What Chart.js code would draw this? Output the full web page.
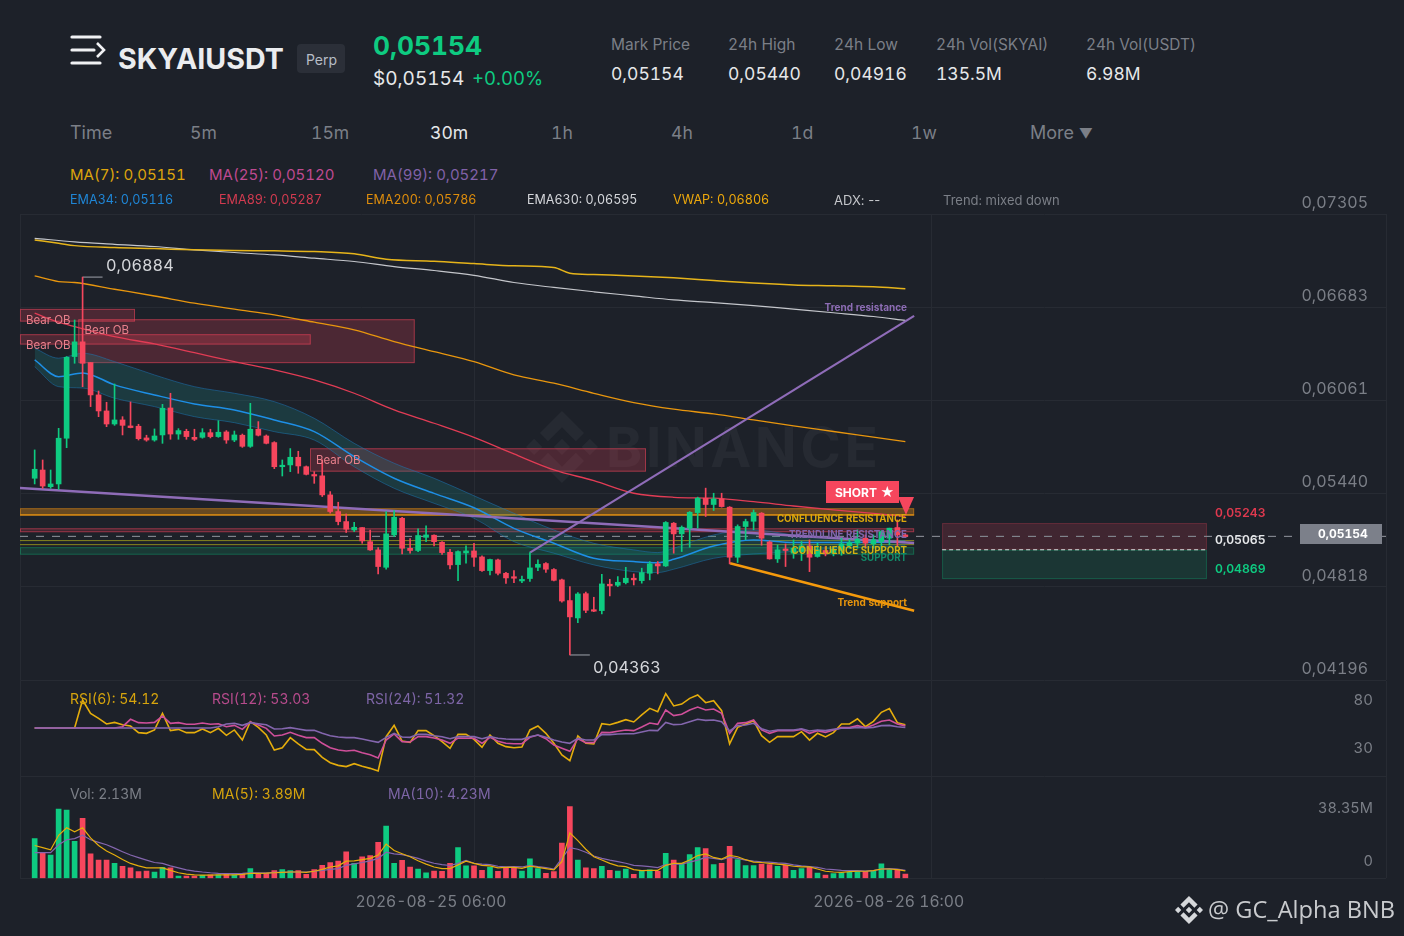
<!DOCTYPE html>
<html><head><meta charset="utf-8"><title>SKYAIUSDT</title>
<script src="https://cdn.jsdelivr.net/npm/chart.js@4/dist/chart.umd.js"></script>
<style>
html,body{margin:0;padding:0;background:#1d2129;width:1404px;height:936px;overflow:hidden;font-family:Inter,sans-serif;font-variant-numeric:tabular-nums}
canvas{position:absolute;left:0}
.t{position:absolute;white-space:nowrap;transform:translateY(-50%);line-height:1}
.r{position:absolute;white-space:nowrap;transform:translate(-100%,-50%);line-height:1}
.g{color:#7b7f87}
.mark{font-weight:700;font-size:9.7px}
svg{position:absolute}
</style></head><body>
<svg style="left:526px;top:411px" width="72" height="72" viewBox="0 0 24 24"><path fill="#262a32" d="M16.624 13.9202l2.7175 2.7154-7.353 7.353-7.353-7.352 2.7175-2.7164 4.6355 4.6595 4.6356-4.6595zm4.6366-4.6366L24 12l-2.7154 2.7164L18.5682 12l2.6924-2.7164zm-9.272.001l2.7163 2.6914-2.7164 2.7174v-.001L9.2721 12l2.7164-2.7154zm-9.2722-.001L5.4088 12l-2.6914 2.6924L0 12l2.7164-2.7164zM11.9885.0115l7.353 7.329-2.7174 2.7154-4.6356-4.6356-4.6355 4.6595-2.7174-2.7154 7.353-7.353z"/></svg>
<div class="t" style="left:606px;top:447px;font-size:55px;font-weight:700;color:#262a32;letter-spacing:3.5px">BINANCE</div>
<canvas id="price" style="top:190px" width="1404" height="510"></canvas>
<canvas id="rsi" style="top:660px" width="1404" height="137"></canvas>
<canvas id="vol" style="top:757px" width="1404" height="170"></canvas>

<svg style="left:70px;top:34px" width="36" height="32" viewBox="0 0 36 32"><g stroke="#f0f1f3" stroke-width="3.2" stroke-linecap="round" fill="none"><path d="M2 3H30"/><path d="M2 16H24"/><path d="M2 29H30"/><path d="M27 9L34 16L27 23" stroke-width="2.6" stroke-linecap="butt"/></g></svg>
<div class="t" style="left:118px;top:58.5px;font-size:28.6px;font-weight:700;color:#eaecef">SKYAIUSDT</div>
<div style="position:absolute;left:297px;top:44px;width:48px;height:29px;background:#2b2f38;border-radius:4px"></div>
<div class="t" style="left:306px;top:60px;font-size:14px;color:#b7bdc6">Perp</div>
<div class="t" style="left:373px;top:46px;font-size:26.3px;font-weight:700;color:#0ecb81">0,05154</div>
<div class="t" style="left:373px;top:78px;font-size:19px;color:#e6e8ea">$0,05154</div>
<div class="t" style="left:472px;top:78px;font-size:18.5px;color:#0ecb81">+0.00%</div>
<div class="t g" style="left:611px;top:45px;font-size:15.5px">Mark Price</div><div class="t" style="left:611px;top:74px;font-size:17.5px;color:#e6e8ea">0,05154</div>
<div class="t g" style="left:728px;top:45px;font-size:15.5px">24h High</div><div class="t" style="left:728px;top:74px;font-size:17.5px;color:#e6e8ea">0,05440</div>
<div class="t g" style="left:834px;top:45px;font-size:15.5px">24h Low</div><div class="t" style="left:834px;top:74px;font-size:17.5px;color:#e6e8ea">0,04916</div>
<div class="t g" style="left:936px;top:45px;font-size:15.4px">24h Vol(SKYAI)</div><div class="t" style="left:936px;top:74px;font-size:17.5px;color:#e6e8ea">135.5M</div>
<div class="t g" style="left:1086px;top:45px;font-size:15.4px">24h Vol(USDT)</div><div class="t" style="left:1086px;top:74px;font-size:17.5px;color:#e6e8ea">6.98M</div>

<div class="t g" style="left:70px;top:133px;font-size:18px">Time</div>
<div class="t g" style="left:190px;top:133px;font-size:17.6px">5m</div>
<div class="t g" style="left:311px;top:133px;font-size:17.6px">15m</div>
<div class="t" style="left:430px;top:133px;font-size:17.6px;color:#e6e8ea">30m</div>
<div class="t g" style="left:551px;top:133px;font-size:17.6px">1h</div>
<div class="t g" style="left:671px;top:133px;font-size:17.6px">4h</div>
<div class="t g" style="left:791px;top:133px;font-size:17.6px">1d</div>
<div class="t g" style="left:911px;top:133px;font-size:17.6px">1w</div>
<div class="t g" style="left:1030px;top:133px;font-size:18px">More <span style="font-size:14px">▼</span></div>

<div class="t" style="left:70px;top:174px;font-size:15px;color:#dea40c">MA(7): 0,05151</div>
<div class="t" style="left:209px;top:174px;font-size:15px;color:#bf4a90">MA(25): 0,05120</div>
<div class="t" style="left:373px;top:174px;font-size:15px;color:#8161a8">MA(99): 0,05217</div>
<div class="t" style="left:70px;top:200px;font-size:12.6px;color:#1f86d6">EMA34: 0,05116</div>
<div class="t" style="left:219px;top:200px;font-size:12.6px;color:#d33b50">EMA89: 0,05287</div>
<div class="t" style="left:366px;top:200px;font-size:12.5px;color:#de8d0c">EMA200: 0,05786</div>
<div class="t" style="left:527px;top:200px;font-size:12.5px;color:#d4d6da">EMA630: 0,06595</div>
<div class="t" style="left:673px;top:200px;font-size:12.6px;color:#eda80c">VWAP: 0,06806</div>
<div class="t" style="left:834px;top:200px;font-size:13px;color:#c4c6ca;font-variant-numeric:normal;font-variant-ligatures:none">ADX: --</div>
<div class="t g" style="left:943px;top:200px;font-size:13px">Trend: mixed down</div>

<div class="t" style="left:106px;top:265px;font-size:16.3px;color:#d4d6da">0,06884</div>
<div class="t" style="left:593px;top:667px;font-size:16.3px;color:#d4d6da">0,04363</div>
<div class="t" style="left:26px;top:320.5px;font-size:11.5px;color:#e8808c">Bear OB</div>
<div class="t" style="left:84.5px;top:331px;font-size:11.5px;color:#e8808c">Bear OB</div>
<div class="t" style="left:26px;top:346px;font-size:11.5px;color:#e8808c">Bear OB</div>
<div class="t" style="left:316px;top:460.5px;font-size:11.5px;color:#e8808c">Bear OB</div>

<div class="r mark" style="left:907px;top:306.5px;color:#8d6db5;font-size:10px">Trend resistance</div>
<div class="r mark" style="left:907px;top:518.5px;color:#dca70b">CONFLUENCE RESISTANCE</div>
<div class="r mark" style="left:907px;top:534.5px;color:#7f64ab">TRENDLINE RESISTANCE</div>
<div class="r mark" style="left:907px;top:550.5px;color:#d2b012">CONFLUENCE SUPPORT</div>
<div class="r mark" style="left:907px;top:557.5px;color:#128a68">SUPPORT</div>
<div class="r mark" style="left:907px;top:601.5px;color:#e8950c;font-size:10px">Trend support</div>

<div style="position:absolute;left:826px;top:481px;width:73px;height:22px;background:#f6465d"></div>
<div class="t" style="left:835px;top:492.5px;font-size:12px;font-weight:700;color:#fff">SHORT <span style="font-size:13.5px">★</span></div>
<svg style="left:898px;top:497px" width="16" height="18" viewBox="0 0 16 18"><path d="M0 0H16L8 18Z" fill="#f6465d"/></svg>

<div class="t" style="left:1215px;top:512.5px;font-size:12.2px;font-weight:600;color:#e0394f">0,05243</div>
<div class="t" style="left:1215px;top:539.5px;font-size:12.2px;font-weight:600;color:#e6e8ea">0,05065</div>
<div class="t" style="left:1215px;top:569px;font-size:12.2px;font-weight:600;color:#0ecb81">0,04869</div>
<div style="position:absolute;left:1300px;top:524px;width:82px;height:20px;background:#7c808a"></div>
<div class="t" style="left:1318px;top:534px;font-size:12px;font-weight:700;color:#fff">0,05154</div>

<div class="t" style="left:70px;top:699px;font-size:14px;color:#d6a40d">RSI(6): 54.12</div>
<div class="t" style="left:212px;top:699px;font-size:14px;color:#b64b8c">RSI(12): 53.03</div>
<div class="t" style="left:366px;top:699px;font-size:14px;color:#7d65a6">RSI(24): 51.32</div>
<div class="t g" style="left:70px;top:794px;font-size:14px">Vol: 2.13M</div>
<div class="t" style="left:212px;top:794px;font-size:14px;color:#d6a40d">MA(5): 3.89M</div>
<div class="t" style="left:388px;top:794px;font-size:14px;color:#7d65a6">MA(10): 4.23M</div>

<svg style="left:1175px;top:896px" width="28" height="28" viewBox="0 0 24 24"><path fill="#d6d8db" d="M16.624 13.9202l2.7175 2.7154-7.353 7.353-7.353-7.352 2.7175-2.7164 4.6355 4.6595 4.6356-4.6595zm4.6366-4.6366L24 12l-2.7154 2.7164L18.5682 12l2.6924-2.7164zm-9.272.001l2.7163 2.6914-2.7164 2.7174v-.001L9.2721 12l2.7164-2.7154zm-9.2722-.001L5.4088 12l-2.6914 2.6924L0 12l2.7164-2.7164zM11.9885.0115l7.353 7.329-2.7174 2.7154-4.6356-4.6356-4.6355 4.6595-2.7174-2.7154 7.353-7.353z"/></svg>
<div class="t" style="left:1208px;top:910px;font-size:23.6px;color:#c9cbce;font-family:'Open Sans',sans-serif">@ GC_Alpha BNB</div>

<script>
// ---- candles (price) ----
const opens=[.05542,.05597,.05486,.05504,.05809,.06354,.06452,.06314,.06098,.05991,
.05904,.05931,.05891,.05889,.05811,.05797,.05831,.06011,.05837,.05855,
.05815,.05815,.05846,.05820,.05851,.05797,.05829,.05755,.05869,.05824,
.05780,.05619,.05631,.05682,.05619,.05564,.05558,.05431,.05320,.05253,
.05197,.05213,.05119,.05064,.04948,.05164,.05275,.05075,.05060,.05148,
.05162,.05115,.05048,.04966,.05044,.05057,.05017,.04926,.04997,.04908,
.04884,.04857,.04873,.04948,.04973,.04933,.04864,.04726,.04610,.04772,
.04661,.04659,.04835,.04828,.04846,.04875,.04859,.04908,.04971,.04957,
.05242,.05171,.05209,.05313,.05409,.05367,.05404,.05349,.05015,.05220,
.05255,.05309,.05117,.05004,.05068,.05042,.05053,.05091,.05020,.05060,
.05042,.05060,.05091,.05109,.05142,.05104,.05120,.05142,.05213,.05163];
const highs=[.05731,.05664,.05597,.05875,.06354,.06598,.06884,.06314,.06124,.06049,
.06171,.05953,.06051,.05902,.05829,.05871,.06035,.06109,.05873,.05869,
.05869,.05873,.05869,.05926,.05860,.05857,.05837,.06042,.05920,.05831,
.05786,.05664,.05740,.05722,.05624,.05586,.05665,.05453,.05382,.05304,
.05248,.05213,.05197,.05079,.05320,.05326,.05282,.05139,.05204,.05224,
.05164,.05119,.05068,.05057,.05091,.05108,.05024,.05002,.05002,.04915,
.04926,.04890,.05046,.04997,.04979,.04939,.04870,.04819,.04779,.04783,
.04748,.04901,.04868,.04886,.04948,.04904,.04942,.04986,.04986,.05253,
.05247,.05224,.05320,.05416,.05476,.05442,.05442,.05353,.05231,.05269,
.05331,.05313,.05124,.05097,.05104,.05131,.05120,.05131,.05109,.05086,
.05086,.05142,.05135,.05198,.05164,.05164,.05193,.05209,.05264,.05170];
const lows=[.05504,.05475,.05475,.05468,.05746,.06309,.06153,.06020,.05953,.05886,
.05895,.05831,.05878,.05797,.05789,.05789,.05775,.05802,.05802,.05802,
.05793,.05809,.05811,.05815,.05775,.05786,.05748,.05748,.05824,.05771,
.05606,.05557,.05586,.05575,.05564,.05508,.05420,.05309,.05231,.05180,
.05186,.05108,.05060,.04904,.04935,.05153,.05037,.05042,.05053,.05119,
.05091,.05033,.04937,.04859,.04975,.04953,.04921,.04897,.04897,.04841,
.04846,.04846,.04853,.04926,.04913,.04857,.04715,.04363,.04579,.04646,
.04652,.04637,.04757,.04819,.04837,.04830,.04842,.04864,.04904,.04953,
.05042,.05053,.05082,.05209,.05287,.05327,.05349,.04971,.04980,.05131,
.05198,.05095,.05002,.04980,.04953,.05008,.04993,.04919,.05015,.05024,
.05024,.05028,.05075,.05075,.05075,.05075,.05042,.05097,.05086,.05150];
const closes=[.05602,.05490,.05504,.05809,.06349,.06452,.06309,.06098,.05991,.05904,
.05931,.05895,.05880,.05806,.05797,.05824,.06009,.05837,.05860,.05820,
.05802,.05846,.05820,.05849,.05797,.05831,.05755,.05869,.05829,.05775,
.05619,.05628,.05682,.05624,.05568,.05557,.05431,.05320,.05253,.05202,
.05215,.05124,.05064,.04953,.05171,.05282,.05075,.05060,.05160,.05164,
.05119,.05046,.04964,.05053,.05057,.05015,.04926,.05000,.04908,.04877,
.04875,.04866,.04944,.04968,.04935,.04861,.04723,.04617,.04770,.04661,
.04655,.04837,.04824,.04848,.04875,.04864,.04913,.04971,.04957,.05247,
.05171,.05215,.05315,.05409,.05367,.05404,.05353,.05015,.05220,.05253,
.05313,.05142,.05004,.05064,.05060,.05075,.05091,.05015,.05064,.05037,
.05068,.05104,.05113,.05135,.05109,.05131,.05186,.05209,.05164,.05154];
// ---- volume, millions ----
const volumes=[21.2,13.3,12.4,37.1,36.5,19.7,32.1,13.1,9.7,9.7,
8.0,6.4,5.5,3.5,3.8,3.3,5.8,5.5,1.1,1.1,
1.1,1.5,1.8,1.8,2.2,1.8,2.4,5.1,2.2,2.7,
4.0,4.6,4.0,4.0,2.0,4.6,6.9,8.4,9.1,14.1,
8.0,11.5,12.1,19.2,27.9,8.0,9.5,6.0,4.9,2.9,
3.8,3.7,7.9,16.4,6.6,6.6,4.2,6.0,3.7,5.7,
5.7,3.8,10.4,5.1,2.6,3.5,18.8,38.35,9.7,5.5,
5.1,6.4,4.2,3.8,4.9,2.0,4.2,4.4,3.7,13.3,
9.7,7.9,12.6,16.4,15.9,7.3,8.0,17.0,10.0,6.8,
6.8,7.5,7.3,6.4,6.9,4.2,5.1,5.8,2.7,1.6,
2.4,2.9,3.1,3.5,3.7,3.7,7.7,4.6,4.6,2.13];
const volMa5=[17.5,16.4,15.2,23.0,27.0,24.8,27.0,21.6,17.5,14.6,
12.4,10.0,7.9,6.6,5.5,5.5,5.5,4.2,2.9,2.2,
1.8,1.6,1.6,1.8,1.8,1.8,2.0,2.6,2.6,2.7,
2.9,3.1,3.3,3.3,3.1,3.7,4.7,6.0,6.6,9.1,
9.3,9.9,10.6,12.4,18.3,14.8,13.1,11.5,9.3,7.5,
6.0,5.1,5.1,7.1,9.1,7.9,6.9,6.6,5.5,5.8,
5.8,5.3,6.4,5.8,5.1,4.4,8.8,24.3,20.1,15.5,
11.5,9.7,7.9,6.6,6.2,4.6,4.0,4.2,4.2,6.9,
7.9,7.9,9.7,12.1,13.0,11.1,10.2,12.2,11.5,9.9,
8.6,8.4,7.9,7.5,7.1,6.4,6.0,6.0,4.9,3.7,
3.3,3.1,3.5,3.7,3.7,4.0,4.9,4.9,4.6,3.89];
const volMa10=[13.7,13.7,13.7,17.9,20.6,21.2,23.0,20.6,19.2,17.9,
16.1,14.2,12.4,11.0,9.7,8.4,7.9,6.6,5.5,4.4,
3.8,3.3,2.9,2.6,2.4,2.4,2.6,2.9,2.9,2.7,
3.1,3.1,3.3,3.3,3.3,3.7,4.2,4.7,5.1,6.9,
7.7,8.4,9.3,10.6,13.9,13.0,12.6,11.7,10.6,9.1,
8.0,7.3,6.8,7.9,9.5,8.0,7.5,7.3,6.4,6.0,
6.2,6.0,6.8,6.2,5.7,4.9,10.6,16.4,15.5,13.9,
11.9,10.6,9.7,8.9,8.0,6.9,6.6,6.2,5.7,7.3,
7.5,7.5,8.6,9.7,11.1,10.6,9.9,11.3,10.6,9.7,
9.1,8.8,8.6,8.2,7.9,7.1,6.6,6.2,5.8,4.9,
4.6,4.2,4.0,4.0,3.8,4.0,4.9,5.1,4.9,4.23];
// ---- RSI ----
const rsi6=[50.8,50.8,50.8,50.8,50.8,50.8,80.0,66.1,60.9,55.0,
56.7,54.3,52.9,46.0,45.3,48.8,66.1,48.1,49.4,46.0,
46.0,49.8,46.0,50.5,43.2,48.8,38.3,57.4,51.5,43.5,
27.9,30.3,40.8,34.2,28.6,28.3,20.3,14.7,11.9,10.6,
13.7,10.9,8.8,6.0,41.8,53.6,37.3,35.9,48.1,48.1,
42.8,36.6,29.7,44.2,44.2,39.0,30.7,43.5,34.9,31.4,
30.3,31.0,48.8,52.9,45.3,34.9,22.7,16.8,42.5,34.9,
34.2,55.3,54.3,56.7,59.5,57.1,64.4,71.3,67.9,86.6,
73.8,75.8,81.7,85.2,77.2,79.3,68.9,34.2,51.5,55.0,
58.5,42.8,35.9,41.8,41.8,41.8,47.0,38.3,45.3,41.5,
46.0,55.0,55.0,60.5,52.2,57.8,67.2,71.0,56.4,54.12];
const rsi12=[50.8,50.8,50.8,50.8,50.8,50.8,50.8,50.8,50.8,50.8,
50.8,52.2,59.9,56.4,56.0,56.7,63.3,55.7,56.4,54.7,
54.7,56.0,54.7,55.3,52.2,53.6,49.4,57.1,54.0,50.5,
42.5,43.5,46.3,43.2,40.8,40.8,34.9,30.3,27.9,26.9,
27.6,25.1,23.0,19.6,38.3,44.6,36.6,36.2,41.8,41.8,
40.4,38.3,34.9,40.4,40.1,40.1,34.9,41.1,37.0,34.9,
34.5,34.5,41.1,43.5,39.7,33.1,29.7,26.5,39.7,35.6,
35.6,46.3,46.0,47.4,48.8,48.1,51.9,56.0,54.7,69.6,
63.7,65.1,69.6,72.7,69.6,70.6,66.1,45.3,55.7,56.4,
59.2,48.8,45.3,48.1,48.1,48.1,49.4,45.3,48.1,46.3,
48.8,51.2,51.2,53.3,51.2,54.0,57.8,59.2,55.0,53.03];
const rsi24=[50.8,50.8,50.8,50.8,50.8,50.8,50.8,50.8,50.8,50.8,
50.8,50.8,50.8,50.8,50.8,50.8,50.8,50.8,50.8,50.8,
50.8,50.8,50.8,52.2,55.0,55.7,53.6,56.4,55.3,54.3,
49.8,50.1,51.2,49.8,48.4,48.4,45.3,42.8,41.5,40.8,
40.8,39.4,37.6,35.9,41.1,45.3,41.5,41.1,44.2,44.2,
42.8,41.8,39.7,41.8,41.8,41.8,39.7,41.8,40.1,39.4,
39.0,39.0,41.8,43.5,41.1,38.3,36.2,34.9,40.1,38.3,
38.3,43.9,43.9,44.6,44.9,44.9,46.7,48.4,48.1,56.7,
54.3,54.7,57.4,59.9,58.8,59.2,57.4,47.7,53.3,54.0,
55.7,50.1,47.4,48.8,48.8,48.8,50.1,47.7,48.8,48.1,
49.4,50.5,50.5,51.5,50.8,51.5,53.3,53.6,52.2,51.32];
// ---- moving lines over the candles, read at these candle numbers ----
const vwapAt=[0,3,5,10,15,20,25,30,35,40,44,50,55,60,65,67,70,75,80,85,90,95,100,105,109];
const vwap=[.07132,.07110,.07094,.07081,.07074,.07066,.07061,.07059,.07054,.07039,.07003,.06990,.06974,.06959,.06948,.06910,.06901,.06892,.06879,.06861,.06844,.06832,.06826,.06819,.06806];
const ema630At=[0,5,10,15,20,25,30,35,40,45,50,55,60,65,70,75,80,85,90,95,100,105,109];
const ema630=[.07143,.07119,.07103,.07088,.07066,.07048,.07032,.07010,.06988,.06954,.06928,.06896,.06848,.06815,.06786,.06759,.06732,.06714,.06694,.06670,.06646,.06621,.06595];
const slowAt=[0,3,5,10,15,20,25,30,35,40,45,50,55,60,65,70,75,80,85,90,95,100,105,109];
const ema200=[.06892,.06854,.06848,.06803,.06758,.06710,.06670,.06632,.06583,.06532,.06454,.06387,.06320,.06232,.06176,.06109,.06047,.06003,.05971,.05931,.05891,.05854,.05816,.05786];
const ema89=[.06643,.06583,.06554,.06487,.06438,.06380,.06320,.06265,.06198,.06109,.05998,.05909,.05815,.05704,.05598,.05526,.05442,.05415,.05409,.05386,.05357,.05331,.05308,.05287];
const ema34At=[0,3,6,10,15,20,25,30,35,40,45,50,55,60,65,70,75,78,80,85,90,95,100,109];
const ema34=[.06331,.06220,.06245,.06165,.06098,.06038,.05998,.05931,.05853,.05686,.05542,.05441,.05345,.05208,.05108,.05008,.04986,.04979,.05001,.05090,.05130,.05113,.05113,.05116];
const ema34Upper=[.06409,.06343,.06376,.06320,.06231,.06153,.06109,.06053,.05942,.05775,.05642,.05542,.05425,.05308,.05197,.05108,.05064,.05046,.05075,.05164,.05197,.05164,.05142,.05126];
const ema34Lower=[.06287,.06153,.06144,.06076,.06020,.05953,.05913,.05853,.05797,.05619,.05475,.05375,.05275,.05119,.05042,.04964,.04919,.04913,.04935,.05008,.05037,.05053,.05075,.05090];
// ---- drawn trend lines ----
const trendlineResAt=[-1.84,110.1], trendlineRes=[.05477,.05110];
const trendResAt=[62,110.1], trendRes=[.05046,.06625];
const trendSupAt=[87.05,110.1], trendSup=[.04975,.04658];
// ---- zones ----
const obStart=[-1.84,5.46,-1.84,34.47], obEnd=[12.56,47.58,34.56,76.53];
const obTop=[.06672,.06603,.06503,.05742], obBottom=[.06587,.06310,.06434,.05586];
const confluenceRes=[.05342,.05297], trendlineBand=[.05208,.05182], confluenceSup=[.05126,.05099], supportBand=[.05082,.05032];
const zoneEnd=110.1;
const tradeStart=113.6, tradeEnd=146.75, tradeStop=.05243, tradeEntry=.05065, tradeTarget=.04869;
const lastPrice=.05154;
// ---- axes ----
const priceTicks=[.07305,.06683,.06061,.05440,.04818,.04196];
const rsiTicks=[80,30];
const volMax=38.35;
const timeTickAt=[55,112.3], timeTickLabels=['2026-08-25 06:00','2026-08-26 16:00'];
const highMark=.06884, highMarkAt=[6,8.5], lowMark=.04363, lowMarkAt=[67,69.5];

const XMIN=-1.836, XMAX=169.17;
const GREEN='#0ecb81', RED='#f6465d', GRID='#272b33', AXIS='#7a7e86';
const idx=closes.map((_,i)=>i);
const up=idx.map(i=>closes[i]>=opens[i]);
const barCol=idx.map(i=>up[i]?GREEN:RED);
const comma=v=>v.toFixed(5).replace('.',',');
const pts=(xs,ys)=>xs.map((x,i)=>({x,y:ys[i]}));
const line=(data,color,width,order,extra)=>Object.assign({type:'line',data,borderColor:color,borderWidth:width,pointRadius:0,order,fill:false,tension:0},extra||{});
const xScale=(showLabels)=>({type:'linear',min:XMIN,max:XMAX,offset:false,
  afterBuildTicks:s=>{s.ticks=[XMIN,...timeTickAt,XMAX].map(value=>({value}))},
  grid:{display:true,offset:false,color:GRID,lineWidth:1,drawTicks:false},border:{display:false},
  ticks:{display:showLabels,autoSkip:false,maxRotation:0,labelOffset:-43,padding:15,color:AXIS,font:{family:'Inter',size:15.7},
    callback:v=>{const k=timeTickAt.indexOf(v);return k<0?'':timeTickLabels[k]}}});
const base=(padding)=>({responsive:false,animation:false,events:[],layout:{padding},plugins:{legend:{display:false},tooltip:{enabled:false}}});
const noWidth=s=>{s.width=0};

// zones are placed through the chart's own scales
const zonesPlugin={id:'zones',beforeDatasetsDraw(c){
  const {ctx,scales:{x,y}}=c;
  const box=(x0,x1,p0,p1,fill,stroke)=>{
    const l=x.getPixelForValue(x0),r=x.getPixelForValue(x1),t=y.getPixelForValue(p0),b=y.getPixelForValue(p1);
    ctx.fillStyle=fill;ctx.fillRect(l,t,r-l,b-t);
    if(stroke){ctx.strokeStyle=stroke;ctx.lineWidth=1;ctx.strokeRect(l+.5,t+.5,r-l-1,b-t-1)}
  };
  ctx.save();
  obStart.forEach((s,i)=>box(s,obEnd[i],obTop[i],obBottom[i],'rgba(246,70,93,0.22)','rgba(246,70,93,0.5)'));
  box(XMIN,zoneEnd,confluenceRes[0],confluenceRes[1],'rgba(226,140,20,0.38)','rgba(226,140,20,0.45)');
  box(XMIN,zoneEnd,trendlineBand[0],trendlineBand[1],'rgba(246,70,93,0.16)','rgba(246,70,93,0.5)');
  box(XMIN,zoneEnd,supportBand[0],supportBand[1],'rgba(14,203,129,0.14)','rgba(14,203,129,0.3)');
  box(tradeStart,tradeEnd,tradeStop,tradeEntry,'rgba(246,70,93,0.16)','rgba(246,70,93,0.2)');
  box(tradeStart,tradeEnd,tradeEntry,tradeTarget,'rgba(14,203,129,0.13)','rgba(14,203,129,0.25)');
  ctx.restore();
}};

new Chart(document.getElementById('price'),{type:'bar',plugins:[zonesPlugin],data:{datasets:[
  {data:idx.map(i=>({x:i,y:[Math.min(opens[i],closes[i]),Math.max(opens[i],closes[i])]})),backgroundColor:barCol,barThickness:5,minBarLength:1.5,grouped:false,order:1},
  {data:idx.map(i=>({x:i,y:[lows[i],highs[i]]})),backgroundColor:barCol,barThickness:1,grouped:false,order:2},
  line(pts(trendSupAt,trendSup),'#f59a0c',2.4,3),
  line(pts(trendResAt,trendRes),'#8f6cb8',2.2,4),
  line(pts(trendlineResAt,trendlineRes),'#8f6cb8',2.4,5),
  line(pts(vwapAt,vwap),'#e6b41a',1.5,6,{cubicInterpolationMode:'monotone'}),
  line(pts(ema630At,ema630),'#c4c6cb',1.2,7,{cubicInterpolationMode:'monotone'}),
  line(pts(slowAt,ema200),'#e8960e',1.3,8,{cubicInterpolationMode:'monotone'}),
  line(pts(slowAt,ema89),'#e23c55',1.3,9,{cubicInterpolationMode:'monotone'}),
  line(pts(ema34At,ema34),'#1e8fe6',1.5,10,{cubicInterpolationMode:'monotone'}),
  line(pts(ema34At,ema34Upper),'rgba(30,120,190,0.5)',1,11,{cubicInterpolationMode:'monotone',fill:'+1',backgroundColor:'rgba(26,140,140,0.24)'}),
  line(pts(ema34At,ema34Lower),'rgba(30,120,190,0.5)',1,12,{cubicInterpolationMode:'monotone'}),
  line(pts([XMIN,zoneEnd],[confluenceRes[1],confluenceRes[1]]),'#d98a14',1.5,13),
  line(pts([XMIN,zoneEnd],[confluenceSup[0],confluenceSup[0]]),'#87861e',1,14),
  line(pts([XMIN,zoneEnd],[confluenceSup[1],confluenceSup[1]]),'#87861e',1,15),
  line(pts([XMIN,XMAX],[lastPrice,lastPrice]),'#80848c',1.2,16,{borderDash:[8,8]}),
  line(pts([tradeStart,tradeEnd],[tradeEntry,tradeEntry]),'#d8dadd',1.2,17,{borderDash:[4,3]}),
  line(pts(highMarkAt,[highMark,highMark]),'#8a8e96',1.2,18),
  line(pts(lowMarkAt,[lowMark,lowMark]),'#8a8e96',1.2,19)
]},options:Object.assign(base({left:20,right:18,top:24,bottom:20}),{scales:{
  x:xScale(false),
  y:{type:'linear',position:'right',min:.04196,max:.07305,afterFit:noWidth,
    afterBuildTicks:s=>{s.ticks=priceTicks.map(value=>({value}))},
    grid:{color:GRID,drawTicks:false},border:{display:false},
    ticks:{mirror:true,padding:-18,labelOffset:-11,autoSkip:false,color:AXIS,font:{family:'Inter',size:16},callback:v=>comma(v)}}
}})});

new Chart(document.getElementById('rsi'),{type:'line',data:{datasets:[
  line(pts(idx,rsi6),'#e5ad0c',1.6,3),
  line(pts(idx,rsi12),'#cf4f9a',1.6,2),
  line(pts(idx,rsi24),'#8466ae',1.6,1)
]},options:Object.assign(base({left:20,right:18,top:20.8,bottom:20.2}),{scales:{
  x:xScale(false),
  y:{type:'linear',position:'right',min:0,max:100,afterFit:noWidth,
    afterBuildTicks:s=>{s.ticks=[...rsiTicks,0].map(value=>({value}))},
    grid:{drawTicks:false,color:c=>c.tick&&c.tick.value===0?GRID:'transparent'},border:{display:false},
    ticks:{mirror:true,padding:-13,autoSkip:false,color:AXIS,font:{family:'Inter',size:15},callback:v=>rsiTicks.includes(v)?String(v):''}}
}})});

new Chart(document.getElementById('vol'),{type:'bar',data:{datasets:[
  {data:idx.map(i=>({x:i,y:volumes[i]})),backgroundColor:barCol,barThickness:5,grouped:false,order:3},
  line(pts(idx,volMa5),'#e5ad0c',1.2,1),
  line(pts(idx,volMa10),'#8466ae',1.2,2)
]},options:Object.assign(base({left:20,right:18,top:20,bottom:0}),{scales:{
  x:xScale(true),
  y:{type:'linear',position:'right',min:0,max:54.24,afterFit:noWidth,
    afterBuildTicks:s=>{s.ticks=[{value:volMax}]},
    grid:{display:false},border:{display:false},
    ticks:{mirror:true,padding:-13,labelOffset:2,color:AXIS,font:{family:'Inter',size:14.6},callback:v=>v.toFixed(2)+'M'}},
  yZero:{type:'linear',position:'right',min:0,max:54.24,afterFit:noWidth,
    afterBuildTicks:s=>{s.ticks=[{value:0}]},
    grid:{color:GRID,drawTicks:false},border:{display:false},
    ticks:{mirror:true,padding:-13,labelOffset:-17,color:AXIS,font:{family:'Inter',size:14.6},callback:()=>'0'}}
}})});
</script>
</body></html>
